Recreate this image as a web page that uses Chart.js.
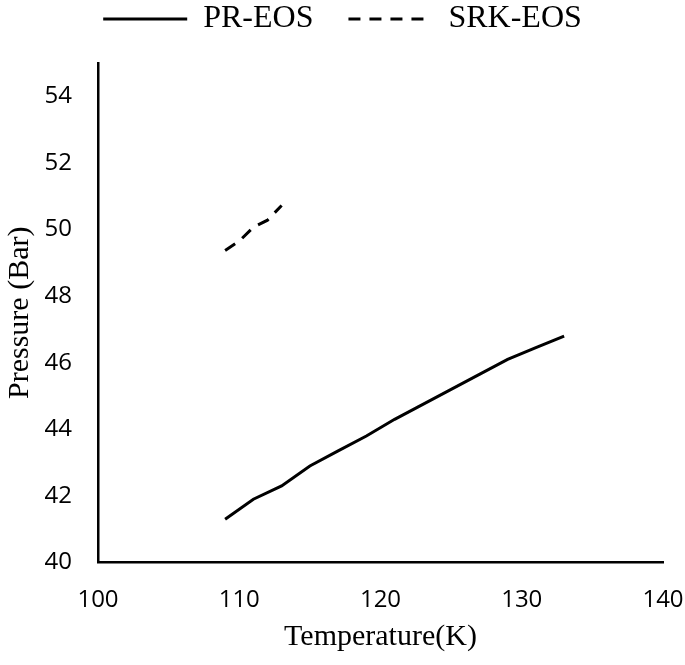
<!DOCTYPE html>
<html>
<head>
<meta charset="utf-8">
<script src="https://cdn.jsdelivr.net/npm/chart.js@4.4.1/dist/chart.umd.min.js"></script>
<style>
  html, body { margin: 0; padding: 0; background: #fff; }
</style>
</head>
<body>
<canvas id="chart" width="685" height="665"></canvas>
<script>
// values
const prTemp = [109, 111, 113, 115, 117, 119, 121, 123, 125, 127, 129, 131, 133];
const prPressure = [41.3, 41.9, 42.3, 42.9, 43.35, 43.8, 44.3, 44.75, 45.2, 45.65, 46.1, 46.45, 46.8];
const srkTemp = [109, 110, 111, 112, 113];
const srkPressure = [49.37, 49.65, 50.07, 50.28, 50.72];

const xTicks = [100, 110, 120, 130, 140];
const yTicks = [40, 42, 44, 46, 48, 50, 52, 54];

const srkDash = [12, 9];

const toPoints = (xs, ys) => xs.map((x, i) => ({ x, y: ys[i] }));

const serif = "'Liberation Serif', 'Times New Roman', serif";
const sans = "'Open Sans', 'Liberation Sans', sans-serif";

// keep the legend strip a fixed height so the plot starts where it should
const legendHeight = {
  id: "legendHeight",
  beforeLayout(chart) {
    const lg = chart.legend;
    if (lg && !lg._fixed) {
      const fit = lg.fit;
      lg.fit = function () {
        fit.call(this);
        this.height = 63;
      };
      lg._fixed = true;
    }
  },
};

const config = {
  type: "scatter",
  data: {
    datasets: [
      {
        label: "PR-EOS",
        data: toPoints(prTemp, prPressure),
        showLine: true,
        borderColor: "#000",
        backgroundColor: "#000",
        borderWidth: 3,
        pointRadius: 0,
        pointStyle: "line",
      },
      {
        label: "SRK-EOS",
        data: toPoints(srkTemp, srkPressure),
        showLine: true,
        borderColor: "#000",
        backgroundColor: "#000",
        borderWidth: 3,
        borderDash: srkDash,
        pointRadius: 0,
        pointStyle: "line",
      },
    ],
  },
  options: {
    responsive: false,
    animation: false,
    layout: { padding: 0 },
    plugins: {
      tooltip: { enabled: false },
      legend: {
        position: "top",
        labels: {
          usePointStyle: true,
          pointStyleWidth: 84,
          padding: 3,
          color: "#000",
          font: { family: serif, size: 32 },
          generateLabels(chart) {
            const items = Chart.defaults.plugins.legend.labels.generateLabels(chart);
            items.forEach((it) => {
              it.lineWidth = 3;
              it.strokeStyle = "#000";
            });
            items[0].text = items[0].text + "\u2003";
            items[1].lineDash = srkDash;
            return items;
          },
        },
      },
    },
    scales: {
      x: {
        type: "linear",
        min: 100,
        max: 140,
        afterBuildTicks: (s) => { s.ticks = xTicks.map((v) => ({ value: v })); },
        afterFit: (s) => {
          s.height = 102.5;
          s.paddingLeft = 0;
          s.paddingRight = 22;
        },
        grid: { display: false, drawTicks: false },
        border: { display: true, color: "#000", width: 2.5 },
        ticks: { color: "#000", padding: 23, font: { family: sans, size: 24 }, maxRotation: 0 },
        title: {
          display: true,
          text: "Temperature(K)",
          color: "#000",
          font: { family: serif, size: 30 },
          padding: { top: 0, bottom: 10 },
        },
      },
      y: {
        type: "linear",
        min: 40,
        max: 55,
        afterBuildTicks: (s) => { s.ticks = yTicks.map((v) => ({ value: v })); },
        afterFit: (s) => { s.width = 98; },
        grid: { display: false, drawTicks: false },
        border: { display: true, color: "#000", width: 2.5 },
        ticks: { color: "#000", padding: 26, font: { family: sans, size: 24 } },
        title: {
          display: true,
          text: "Pressure (Bar)",
          color: "#000",
          font: { family: serif, size: 30 },
          padding: { top: 2, bottom: 0 },
        },
      },
    },
  },
  plugins: [
    legendHeight,
    {
      id: "white",
      beforeDraw: (chart) => {
        const ctx = chart.ctx;
        ctx.save();
        ctx.fillStyle = "white";
        ctx.fillRect(0, 0, chart.width, chart.height);
        ctx.restore();
      },
    },
  ],
};

new Chart(document.getElementById("chart"), config);
</script>
</body>
</html>
